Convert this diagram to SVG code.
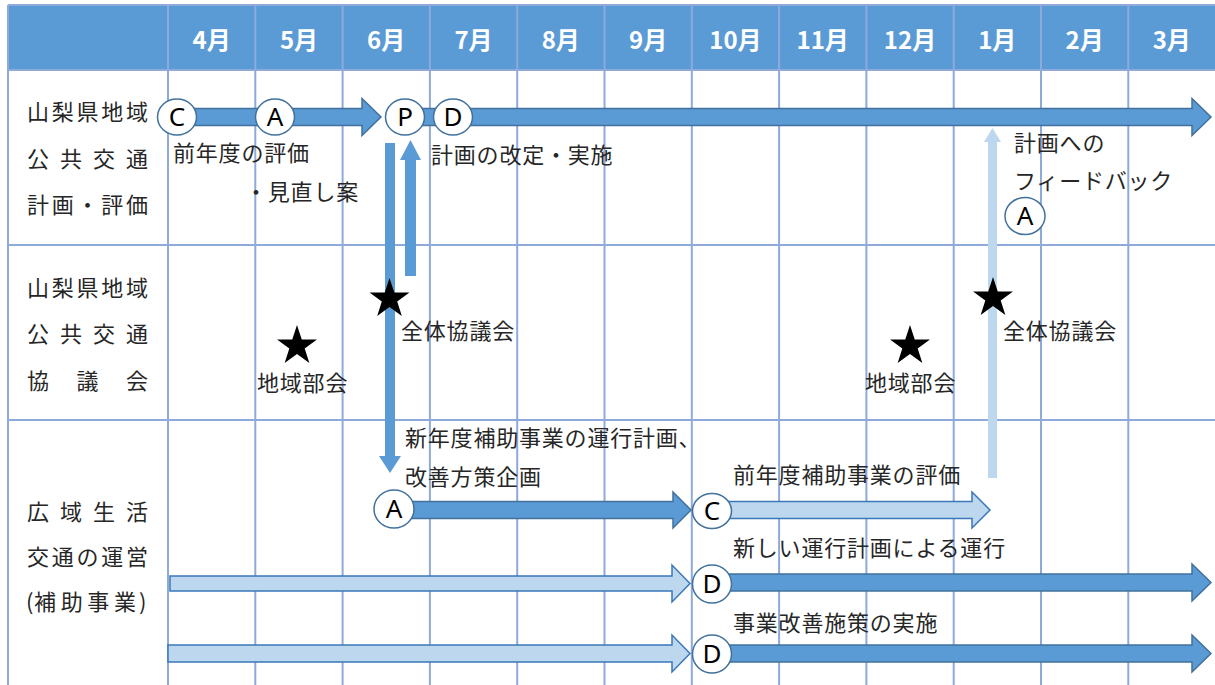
<svg xmlns="http://www.w3.org/2000/svg" width="1215" height="685" viewBox="0 0 1215 685">
<style>
.grid{stroke:#8EAADB;stroke-width:2;fill:none}
.hd{font-family:"Noto Sans CJK JP","Noto Sans",sans-serif;font-size:24px;font-weight:bold;fill:#fff;text-anchor:middle}
.t{font-family:"Noto Sans CJK JP",sans-serif;font-size:22px;fill:#262626;letter-spacing:0.8px}
.lab{font-family:"Noto Sans CJK JP",sans-serif;font-size:22px;fill:#262626}
.dark{fill:#5B9BD5;stroke:#41719C;stroke-width:1.5}
.light{fill:#BDD7EE;stroke:#3A78B8;stroke-width:1.5}
.vdark{fill:#5B9BD5}
.vlight{fill:#BDD7EE}
.nc{fill:#fff;stroke:#41719C;stroke-width:1.5}
.nl{font-family:"Noto Sans",sans-serif;font-size:26px;fill:#000;text-anchor:middle}
</style>
<defs>
<path id="star" d="M0,-21 L4.76,-6.55 L19.97,-6.49 L7.70,2.50 L12.34,16.99 L0,8.1 L-12.34,16.99 L-7.70,2.50 L-19.97,-6.49 L-4.76,-6.55Z" fill="#000"/>
</defs>
<rect width="1215" height="685" fill="#fff"/>
<g id="table">
<rect x="8" y="5" width="1210" height="65" fill="#5B9BD5"/>
<path class="grid" d="M8,5V685 M168,5V685 M255.3,5V685 M342.6,5V685 M429.9,5V685 M517.2,5V685 M604.5,5V685 M691.8,5V685 M779.1,5V685 M866.4,5V685 M953.7,5V685 M1041,5V685 M1128.3,5V685 M8,5H1215 M8,70H1215 M8,245H1215 M8,420H1215"/>
<text class="hd" x="211.6" y="49">4月</text>
<text class="hd" x="299" y="49">5月</text>
<text class="hd" x="386.2" y="49">6月</text>
<text class="hd" x="473.5" y="49">7月</text>
<text class="hd" x="560.8" y="49">8月</text>
<text class="hd" x="648.1" y="49">9月</text>
<text class="hd" x="735.4" y="49">10月</text>
<text class="hd" x="822.7" y="49">11月</text>
<text class="hd" x="910" y="49">12月</text>
<text class="hd" x="997.3" y="49">1月</text>
<text class="hd" x="1084.6" y="49">2月</text>
<text class="hd" x="1171.8" y="49">3月</text>
<text class="lab" x="27" y="120" textLength="121" lengthAdjust="spacing">山梨県地域</text>
<text class="lab" x="27" y="167" textLength="121" lengthAdjust="spacing">公共交通</text>
<text class="lab" x="27" y="213" textLength="121" lengthAdjust="spacing">計画・評価</text>
<text class="lab" x="27" y="296" textLength="121" lengthAdjust="spacing">山梨県地域</text>
<text class="lab" x="27" y="342" textLength="121" lengthAdjust="spacing">公共交通</text>
<text class="lab" x="27" y="389" textLength="121" lengthAdjust="spacing">協議会</text>
<text class="lab" x="27" y="520" textLength="121" lengthAdjust="spacing">広域生活</text>
<text class="lab" x="27" y="565" textLength="121" lengthAdjust="spacing">交通の運営</text>
<text class="lab" y="610"><tspan x="26">(</tspan><tspan x="34" textLength="102" lengthAdjust="spacing">補助事業</tspan><tspan x="139">)</tspan></text>
</g>
<g id="connectors">
<polygon class="dark" points="177,108.5 362,108.5 362,98.5 381,117 362,135.5 362,125.5 177,125.5"/>
<polygon class="dark" points="405,108.5 1192,108.5 1192,98.5 1211,117 1192,135.5 1192,125.5 405,125.5"/>
<polygon class="vdark" points="385,143 395,143 395,456 401,456 390,473 379,456 385,456"/>
<polygon class="vdark" points="405,276 405,160 400,160 410.5,140 421,160 416,160 416,276"/>
<polygon class="vlight" points="988,478 988,142 984,142 992.5,128 1001,142 997,142 997,478"/>
<polygon class="dark" points="394,501.5 673,501.5 673,492 691,510 673,528 673,518.5 394,518.5"/>
<polygon class="light" points="712,501.5 972,501.5 972,492 990,510 972,528 972,518.5 712,518.5"/>
<polygon class="light" points="170,576 672,576 672,565 690,583.5 672,602 672,591 170,591"/>
<polygon class="dark" points="712,574 1192,574 1192,564 1211,582.5 1192,601 1192,591 712,591"/>
<polygon class="light" points="168,645 672,645 672,635 690,653.5 672,672 672,662 168,662"/>
<polygon class="dark" points="712,645 1192,645 1192,635 1211,653.5 1192,672 1192,662 712,662"/>
</g>
<g id="node-c1"><ellipse class="nc" cx="177" cy="117" rx="19.5" ry="18"/><text class="nl" x="177" y="126">C</text></g>
<g id="node-a1"><ellipse class="nc" cx="275" cy="117" rx="19.5" ry="18"/><text class="nl" x="275" y="126">A</text></g>
<g id="node-p"><ellipse class="nc" cx="405" cy="117" rx="19.5" ry="18"/><text class="nl" x="405" y="126">P</text></g>
<g id="node-d1"><ellipse class="nc" cx="453" cy="117" rx="19.5" ry="18"/><text class="nl" x="453" y="126">D</text></g>
<g id="node-a-fb"><ellipse class="nc" cx="1025" cy="216" rx="20" ry="18.5"/><text class="nl" x="1025" y="225">A</text></g>
<g id="node-a3"><ellipse class="nc" cx="394" cy="509" rx="20" ry="19"/><text class="nl" x="394" y="518">A</text></g>
<g id="node-c3"><ellipse class="nc" cx="712" cy="511" rx="19.5" ry="17.5"/><text class="nl" x="712" y="520">C</text></g>
<g id="node-d3a"><ellipse class="nc" cx="712" cy="584" rx="19.5" ry="19"/><text class="nl" x="712" y="593">D</text></g>
<g id="node-d3b"><ellipse class="nc" cx="712" cy="654" rx="19.5" ry="19"/><text class="nl" x="712" y="663">D</text></g>
<g id="labels-row1">
<text class="t" x="173" y="161">前年度の評価</text>
<text class="t" x="245" y="200">・見直し案</text>
<text class="t" x="431" y="163">計画の改定・実施</text>
<text class="t" x="1014" y="151">計画への</text>
<text class="t" x="1014" y="189">フィードバック</text>
</g>
<g id="star-zentai1"><use href="#star" x="389.5" y="299"/><text class="t" x="401" y="339">全体協議会</text></g>
<g id="star-chiiki1"><use href="#star" x="297" y="346"/><text class="t" x="257" y="391">地域部会</text></g>
<g id="star-chiiki2"><use href="#star" x="910" y="346"/><text class="t" x="865" y="391">地域部会</text></g>
<g id="star-zentai2"><use href="#star" x="993" y="298"/><text class="t" x="1003" y="339">全体協議会</text></g>
<g id="labels-row3">
<text class="t" x="405" y="446">新年度補助事業の運行計画、</text>
<text class="t" x="405" y="485">改善方策企画</text>
<text class="t" x="733" y="483">前年度補助事業の評価</text>
<text class="t" x="733" y="556">新しい運行計画による運行</text>
<text class="t" x="733" y="631">事業改善施策の実施</text>
</g>
</svg>
